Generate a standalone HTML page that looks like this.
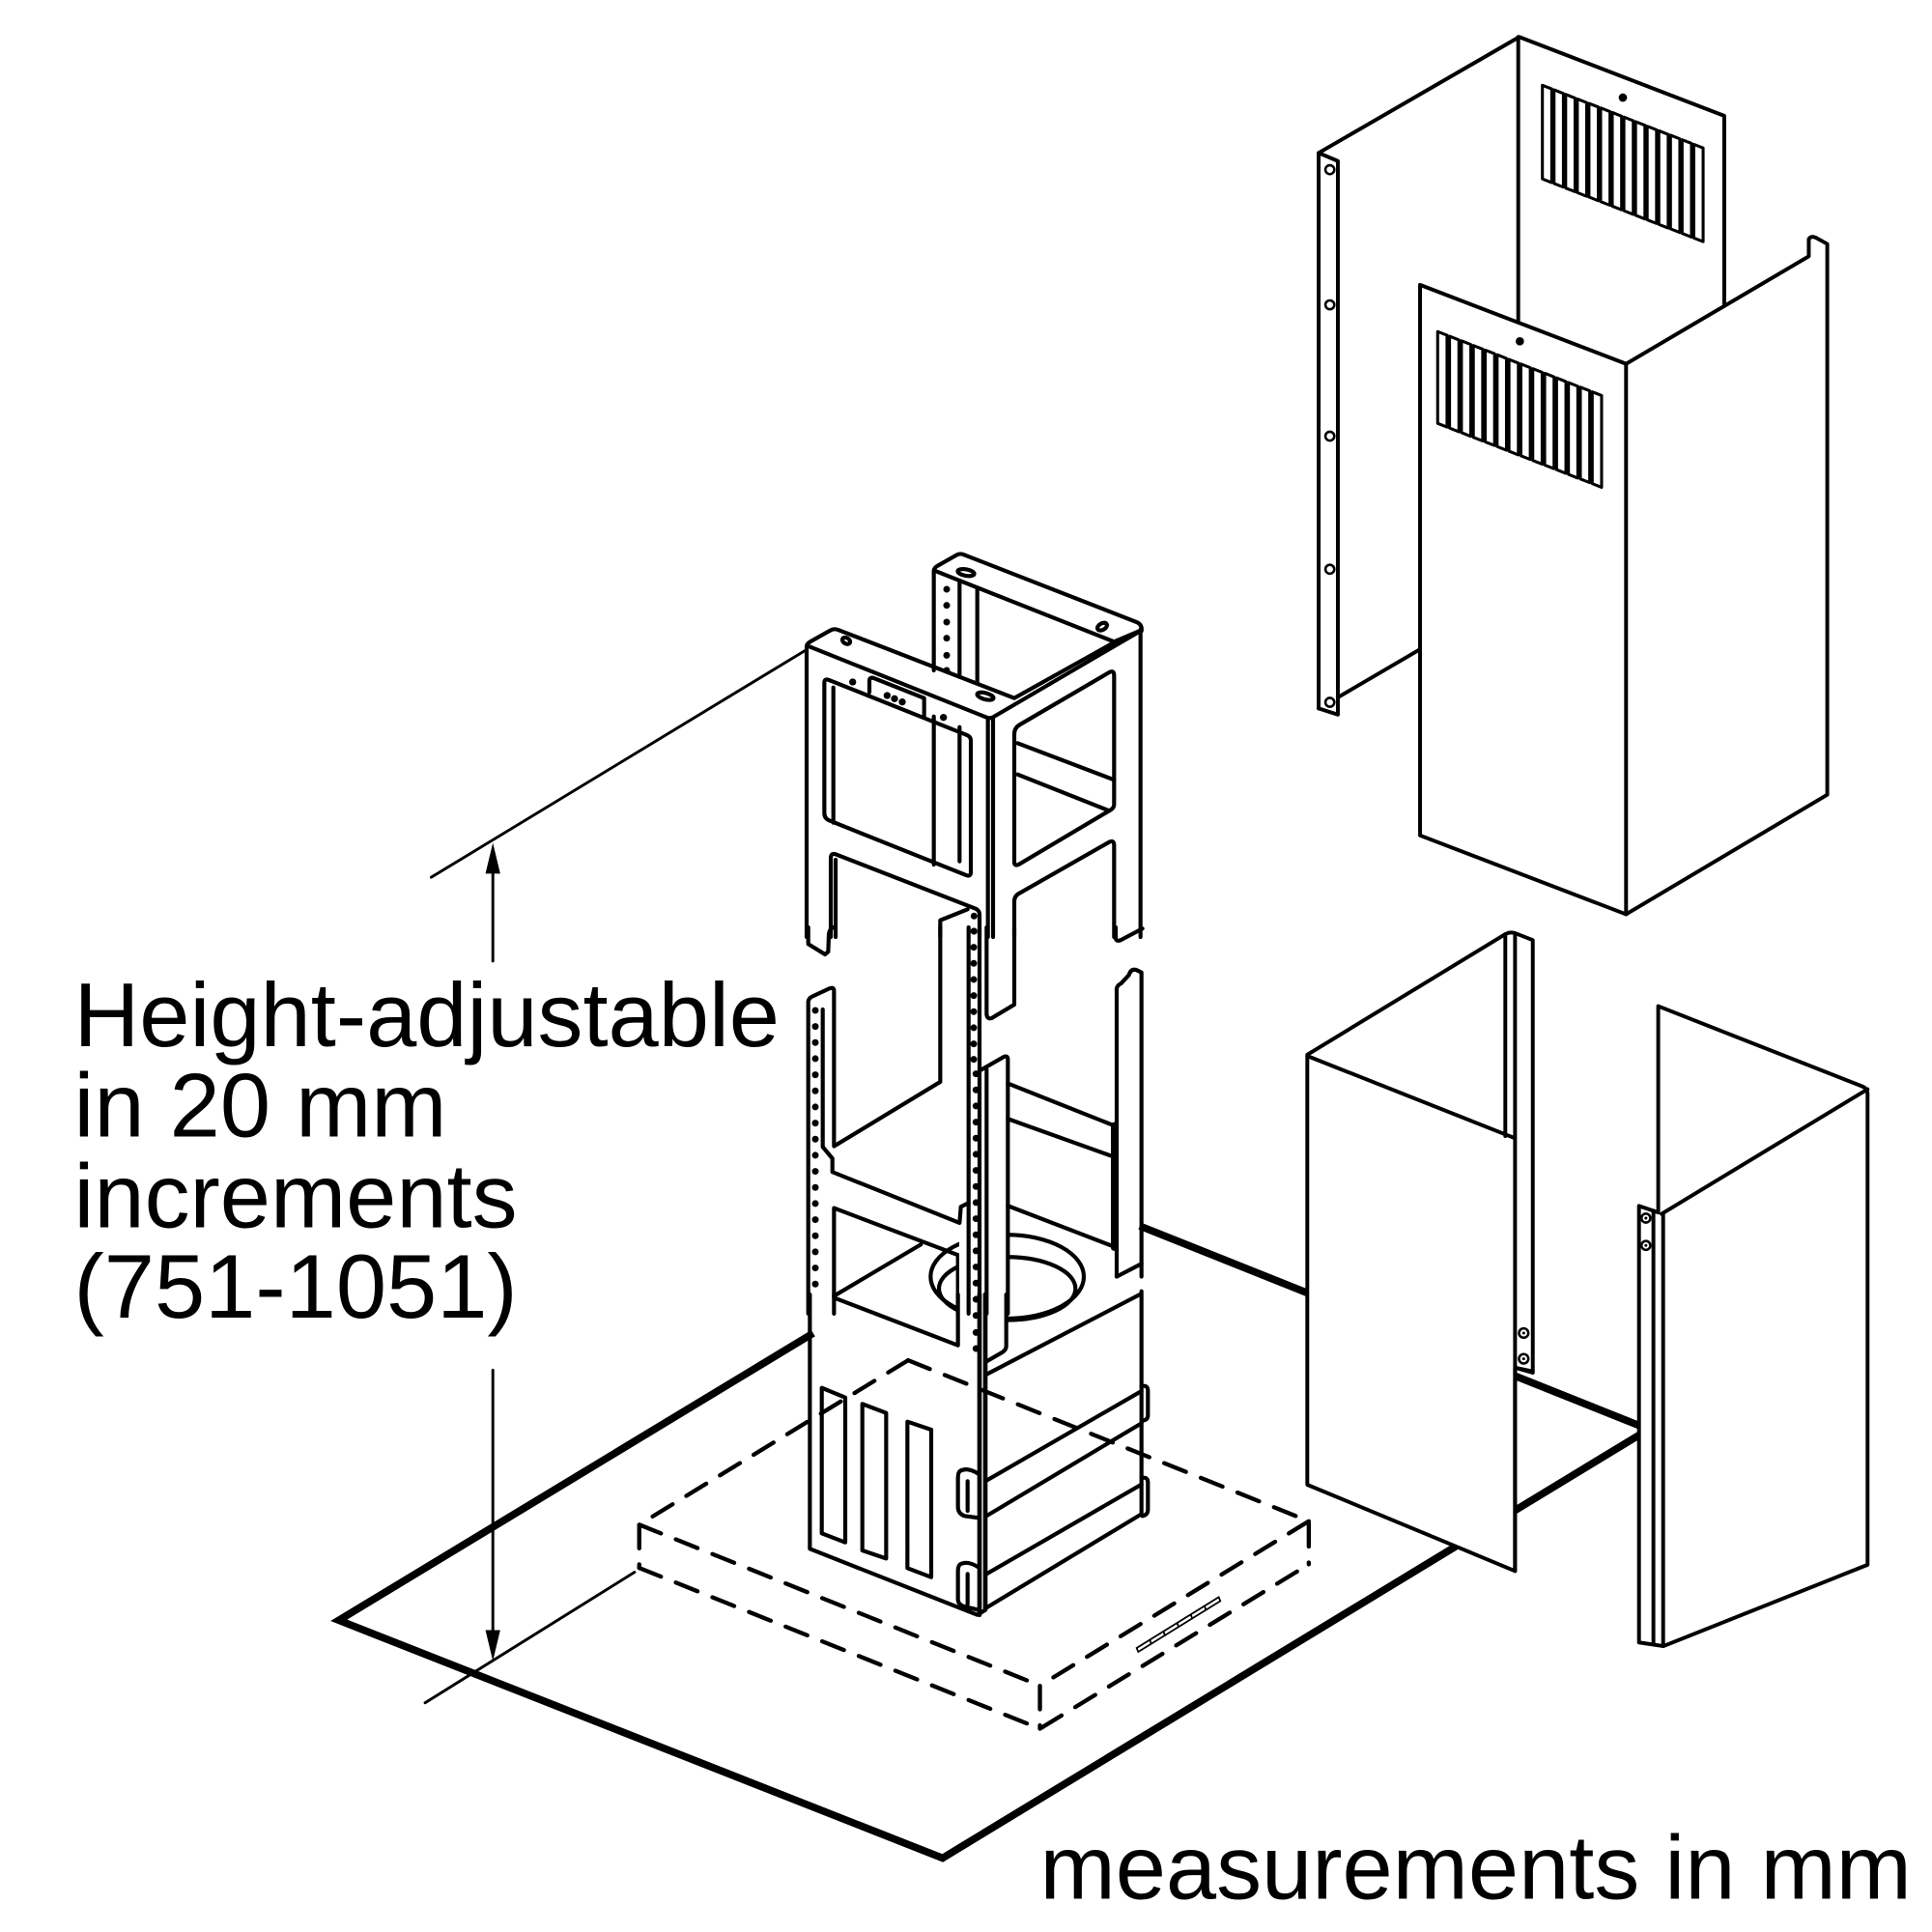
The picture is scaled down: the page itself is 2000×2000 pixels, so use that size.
<!DOCTYPE html>
<html><head><meta charset="utf-8"><style>
html,body{margin:0;padding:0;background:#fff;}
svg{display:block;}
text{font-family:"Liberation Sans",Arial,sans-serif;fill:#000;}
</style></head><body>
<svg width="2000" height="2000" viewBox="0 0 1568 1568" xmlns="http://www.w3.org/2000/svg">
<rect x="0" y="0" width="1568" height="1568" fill="#fff"/>
<g fill="none" stroke="#000" stroke-linejoin="round" stroke-linecap="round">

<!-- floor plate -->
<path d="M660,1082 L275,1315 L765,1508 L1338,1160 L925,995" stroke-width="6" stroke-linejoin="miter" stroke-linecap="butt"/>

<!-- ===== upper right chimney: back piece ===== -->
<g stroke-width="3.1">
<path d="M1070.2,575 L1070.2,124.1 L1233,30 L1399.4,94 L1399.4,250"/>
<path d="M1232.2,30 L1232.2,262"/>
<path d="M1070.2,124.1 L1085.8,130.7 L1085.8,580 L1070.2,575"/>
<path d="M1085.8,566 L1152.5,527"/>
</g>
<g stroke-width="2">
<circle cx="1079.3" cy="137.7" r="3.6"/><circle cx="1079.3" cy="247.4" r="3.6"/><circle cx="1079.3" cy="354" r="3.6"/><circle cx="1079.3" cy="462" r="3.6"/><circle cx="1079.3" cy="570" r="3.6"/>
</g>
<g stroke-width="2.4">
<path d="M1251.8,69.2 l7.6,3 l0,76 l-7.6,-3 z"/>
<path d="M1261.25,72.9 l7.6,3 l0,76 l-7.6,-3 z"/>
<path d="M1270.7,76.6 l7.6,3 l0,76 l-7.6,-3 z"/>
<path d="M1280.15,80.3 l7.6,3 l0,76 l-7.6,-3 z"/>
<path d="M1289.6,83.9 l7.6,3 l0,76 l-7.6,-3 z"/>
<path d="M1299.05,87.6 l7.6,3 l0,76 l-7.6,-3 z"/>
<path d="M1308.5,91.3 l7.6,3 l0,76 l-7.6,-3 z"/>
<path d="M1317.95,95 l7.6,3 l0,76 l-7.6,-3 z"/>
<path d="M1327.4,98.7 l7.6,3 l0,76 l-7.6,-3 z"/>
<path d="M1336.85,102.4 l7.6,3 l0,76 l-7.6,-3 z"/>
<path d="M1346.3,106.1 l7.6,3 l0,76 l-7.6,-3 z"/>
<path d="M1355.75,109.7 l7.6,3 l0,76 l-7.6,-3 z"/>
<path d="M1365.2,113.4 l7.6,3 l0,76 l-7.6,-3 z"/>
<path d="M1374.65,117.1 l7.6,3 l0,76 l-7.6,-3 z"/>
</g>
<circle cx="1317.1" cy="79.2" r="3.4" fill="#000" stroke="none"/>

<!-- front piece -->
<path d="M1152.5,231.2 L1319.7,295.3 L1468,208 L1468,194 Q1470,191 1474,193 L1483,198 L1483,645 L1319.7,742 L1152.5,678 Z" fill="#fff" stroke-width="3.1"/>
<path d="M1319.7,295.3 L1319.7,742" stroke-width="3.1"/>
<g stroke-width="2.4">
<path d="M1166.8,269.1 l7.6,3 l0,74.5 l-7.6,-3 z"/>
<path d="M1176.45,272.9 l7.6,3 l0,74.5 l-7.6,-3 z"/>
<path d="M1186.1,276.6 l7.6,3 l0,74.5 l-7.6,-3 z"/>
<path d="M1195.75,280.4 l7.6,3 l0,74.5 l-7.6,-3 z"/>
<path d="M1205.4,284.1 l7.6,3 l0,74.5 l-7.6,-3 z"/>
<path d="M1215.05,287.9 l7.6,3 l0,74.5 l-7.6,-3 z"/>
<path d="M1224.7,291.7 l7.6,3 l0,74.5 l-7.6,-3 z"/>
<path d="M1234.35,295.4 l7.6,3 l0,74.5 l-7.6,-3 z"/>
<path d="M1244,299.2 l7.6,3 l0,74.5 l-7.6,-3 z"/>
<path d="M1253.65,302.9 l7.6,3 l0,74.5 l-7.6,-3 z"/>
<path d="M1263.3,306.7 l7.6,3 l0,74.5 l-7.6,-3 z"/>
<path d="M1272.95,310.5 l7.6,3 l0,74.5 l-7.6,-3 z"/>
<path d="M1282.6,314.2 l7.6,3 l0,74.5 l-7.6,-3 z"/>
<path d="M1292.25,318 l7.6,3 l0,74.5 l-7.6,-3 z"/>
</g>
<circle cx="1233.5" cy="277" r="3.4" fill="#000" stroke="none"/>

<!-- ===== lower left chimney piece ===== -->
<path d="M1061,856 L1222,758 Q1226,756 1230,757.5 L1244,763 L1244,1113 L1229.6,1110 L1229.6,1275 L1061,1205 Z" fill="#fff" stroke-width="3.1"/>
<path d="M1061,857 L1229.6,923.8 M1221.7,760 L1221.7,922 M1229.6,758 L1229.6,1275 M1229.6,1110 L1244,1114" stroke-width="3.1"/>
<g stroke-width="2"><circle cx="1236.6" cy="1081.9" r="3.8"/><circle cx="1236.6" cy="1102.8" r="3.8"/></g>
<circle cx="1236.6" cy="1081.9" r="1.2" fill="#000" stroke="none"/><circle cx="1236.6" cy="1102.8" r="1.2" fill="#000" stroke="none"/>

<!-- ===== lower right chimney piece ===== -->
<path d="M1345.8,816.6 L1511,881.5 Q1515.7,883.3 1515.7,888 L1515.7,1270 L1350,1336 L1330.2,1333 L1330.2,978.7 L1345.8,984 Z" fill="#fff" stroke-width="3.1"/>
<path d="M1348.5,985.2 L1515.7,884 M1349.8,985 L1349.8,1336 M1341.9,982.6 L1341.9,1334" stroke-width="3.1"/>
<g stroke-width="2"><circle cx="1335.8" cy="988.6" r="3.6"/><circle cx="1335.8" cy="1010.8" r="3.6"/></g>
<circle cx="1335.8" cy="988.6" r="1.2" fill="#000" stroke="none"/><circle cx="1335.8" cy="1010.8" r="1.2" fill="#000" stroke="none"/>

<!-- ===== column: upper section ===== -->
<g transform="translate(642.9,446.9) scale(0.2613)" stroke-width="12.5">
<path d="M440,372 L440,62 Q442,52 452,47 L512,13 Q522,8 532,12 L1070,222 Q1088,230 1085,250"/>
<path d="M442,62 L1000,283 L1078,250"/>
<path d="M520,96 L520,392 M575,118 L575,413"/>
<g fill="#000" stroke="none">
<circle cx="480" cy="120" r="10.5"/><circle cx="480" cy="170" r="10.5"/><circle cx="480" cy="222" r="10.5"/><circle cx="480" cy="272" r="10.5"/><circle cx="480" cy="325" r="10.5"/><circle cx="480" cy="372" r="10.5"/>
<circle cx="295" cy="450" r="11"/><circle cx="318" cy="460" r="11"/><circle cx="342" cy="470" r="11"/><circle cx="188" cy="408" r="11"/><circle cx="470" cy="518" r="11"/>
<circle cx="565" cy="1135" r="10.5"/><circle cx="565" cy="1182" r="10.5"/>
</g>
<ellipse cx="540" cy="68" rx="26" ry="10" transform="rotate(10 540 68)"/>
<ellipse cx="963" cy="236" rx="16" ry="10" transform="rotate(-30 963 236)"/>
<path d="M45,1200 L45,298 Q46,288 56,283 L118,248 Q130,241 143,246 L690,458 L1000,285"/>
<path d="M46,295 L604,518 Q614,523 626,516 L1072,255"/>
<path d="M608,522 L608,1200 M624,520 L624,1200"/>
<path d="M1082,245 L1082,1200"/>
<ellipse cx="168" cy="280" rx="13" ry="9" transform="rotate(30 168 280)"/>
<ellipse cx="600" cy="452" rx="26" ry="10" transform="rotate(15 600 452)"/>
<path d="M100,410 L100,815 Q100,832 115,838 L540,1008 Q555,1014 555,998 L555,590 Q555,578 543,573 L115,402 Q100,396 100,410 Z"/>
<path d="M128,425 L128,845"/>
<path d="M440,515 L440,975 M520,548 L520,965"/>
<path d="M240,440 L240,402 Q242,392 254,396 L410,458 L410,515"/>
<path d="M120,1200 L120,955 Q120,938 135,943 L570,1112 Q582,1118 582,1130 L582,1200"/>
<path d="M135,960 L135,1200"/>
<path d="M460,1200 L460,1148 L545,1114"/>
<path d="M690,570 Q690,550 708,540 L985,378 Q1000,370 1000,388 L1000,788 Q1000,800 988,806 L705,974 Q690,982 690,966 Z"/>
<path d="M700,598 L1000,712 M700,695 L985,808"/>
<path d="M690,1200 L690,1090 Q690,1072 706,1064 L985,905 Q1000,898 1000,915 L1000,1200"/>
</g>

<!-- ===== column: middle section ===== -->
<g transform="translate(642.9,752.6) scale(0.2613)" stroke-width="12.5">
<path d="M50,0 L50,52 L102,84 L112,76 L114,20 Q116,6 128,0"/>
<path d="M604,0 L604,270 Q606,287 620,282 L690,240 L690,0"/>
<path d="M1005,0 L1005,35 Q1008,45 1020,40 L1088,4"/>
<path d="M50,1200 L50,230 Q52,220 62,215 L116,190 Q130,184 130,198 L130,680 L460,480 L460,0"/>
<path d="M95,255 L95,682 L125,718 L125,760 L520,918 L524,868 L548,856"/>
<path d="M130,1200 L130,872 L515,1018 L515,1200"/>
<path d="M130,1145 L400,985"/>
<path d="M670,485 L1005,618 M670,595 L1005,715 M670,865 L1000,992"/>
<path d="M1000,615 L1000,995" stroke-width="20"/>
<path d="M1008,1085 L1008,190 Q1010,180 1022,174 L1046,148 Q1052,128 1068,132 L1085,140 L1085,1085"/>
<path d="M1008,1085 L1085,1045"/>
<ellipse cx="668" cy="1085" rx="238" ry="130"/>
<ellipse cx="668" cy="1122" rx="212" ry="98"/>
<rect x="519" y="930" width="146" height="370" fill="#fff" stroke="none"/>
<path d="M548,0 L548,1200 M582,0 L582,1200"/>
<path d="M588,442 L658,402 Q670,398 670,410 L670,1200"/>
<path d="M604,442 L604,1200"/>
<g fill="#000" stroke="none">
<circle cx="72" cy="258" r="10.5"/><circle cx="72" cy="308" r="10.5"/><circle cx="72" cy="358" r="10.5"/><circle cx="72" cy="408" r="10.5"/><circle cx="72" cy="458" r="10.5"/><circle cx="72" cy="508" r="10.5"/><circle cx="72" cy="558" r="10.5"/><circle cx="72" cy="608" r="10.5"/><circle cx="72" cy="658" r="10.5"/><circle cx="72" cy="708" r="10.5"/><circle cx="72" cy="758" r="10.5"/><circle cx="72" cy="808" r="10.5"/><circle cx="72" cy="858" r="10.5"/><circle cx="72" cy="908" r="10.5"/><circle cx="72" cy="958" r="10.5"/><circle cx="72" cy="1008" r="10.5"/><circle cx="72" cy="1058" r="10.5"/><circle cx="72" cy="1108" r="10.5"/>
<circle cx="564" cy="12" r="10.5"/><circle cx="564" cy="62" r="10.5"/><circle cx="564" cy="112" r="10.5"/><circle cx="564" cy="162" r="10.5"/><circle cx="564" cy="212" r="10.5"/><circle cx="564" cy="262" r="10.5"/><circle cx="564" cy="312" r="10.5"/><circle cx="564" cy="362" r="10.5"/><circle cx="564" cy="410" r="10.5"/>
<circle cx="571" cy="455" r="10.5"/><circle cx="571" cy="505" r="10.5"/><circle cx="571" cy="555" r="10.5"/><circle cx="571" cy="605" r="10.5"/><circle cx="571" cy="655" r="10.5"/><circle cx="571" cy="705" r="10.5"/><circle cx="571" cy="755" r="10.5"/><circle cx="571" cy="805" r="10.5"/><circle cx="571" cy="855" r="10.5"/><circle cx="571" cy="905" r="10.5"/><circle cx="571" cy="955" r="10.5"/><circle cx="571" cy="1005" r="10.5"/><circle cx="571" cy="1055" r="10.5"/><circle cx="571" cy="1105" r="10.5"/>
</g>
</g>

<!-- ===== column: motor box ===== -->
<g transform="translate(642.9,1050.6) scale(0.2613)" stroke-width="12.5">
<path d="M55,0 L55,790 L575,995 L600,980"/>
<path d="M130,0 L130,10 L515,158 L515,0"/>
<path d="M582,0 L582,995" stroke-width="14"/>
<path d="M600,0 L600,978" stroke-width="14"/>
<path d="M665,0 L665,160 Q665,172 652,180 L600,210"/>
<path d="M600,250 L1080,0"/>
<path d="M1085,-10 L1085,682"/>
<path d="M600,580 L1085,300 M600,690 L1085,400 M600,870 L1085,590 M600,975 L1085,682"/>
<path d="M1085,285 Q1105,280 1105,300 L1105,375 Q1105,390 1088,392 M1085,570 Q1105,565 1105,585 L1105,668 Q1105,684 1088,688"/>
<path d="M580,558 Q545,535 522,548 Q515,553 515,570 L515,660 Q515,680 535,688 L580,694 M545,580 L545,672"/>
<path d="M580,848 Q545,825 522,838 Q515,843 515,860 L515,948 Q516,965 538,970 L580,980 M545,868 L545,962"/>
<path d="M92,290 L165,320 L165,770 L92,742 Z M218,340 L292,368 L292,820 L218,795 Z M358,395 L432,420 L432,878 L358,850 Z"/>
<g fill="#000" stroke="none">
<circle cx="571" cy="15" r="10.5"/><circle cx="571" cy="65" r="10.5"/><circle cx="571" cy="118" r="10.5"/><circle cx="571" cy="168" r="10.5"/>
</g>
</g>

<!-- ===== dashed hood outline on the floor ===== -->
<g stroke-width="3.4" stroke-dasharray="19 13">
<path d="M737,1104 L518.8,1237.4 L518.8,1272.5"/>
<path d="M518.8,1237.4 L844,1368"/>
<path d="M1062.2,1234.6 L844,1368 L844,1403"/>
<path d="M518.8,1272.5 L844,1403 L1062.2,1269.6"/>
<path d="M737,1104 L1062.2,1234.6 L1062.2,1269.6"/>
</g>
<!-- slot mark -->
<g stroke-width="1.4" stroke-linejoin="miter">
<path d="M923.8,1340.6 L990.4,1299.4 L989.1,1296.2 L922.5,1337.5 Z"/>
<path d="M934.3,1334.1 L933.2,1330.9 M945.4,1327.3 L944.3,1324.1 M956.5,1320.4 L955.4,1317.2 M967.6,1313.6 L966.5,1310.4 M978.7,1306.7 L977.6,1303.5"/>
</g>

<!-- ===== dimension lines ===== -->
<g stroke-width="2.3">
<path d="M350,712 L655,527"/>
<path d="M345,1382 L515,1276"/>
<path d="M400,780 L400,704"/>
<path d="M400,1112 L400,1328"/>
</g>
<path d="M400,684 L394,709 L406,709 Z" fill="#000" stroke="none"/>
<path d="M400,1348 L394,1323 L406,1323 Z" fill="#000" stroke="none"/>
</g>

<!-- ===== text ===== -->
<text x="60" y="849" font-size="73.6">Height-adjustable</text>
<text x="60" y="922.5" font-size="73.6">in 20 mm</text>
<text x="60" y="996" font-size="73.6">increments</text>
<text x="60" y="1069.5" font-size="73.6">(751-1051)</text>
<text x="844" y="1541" font-size="73.6">measurements in mm</text>
</svg>
</body></html>
